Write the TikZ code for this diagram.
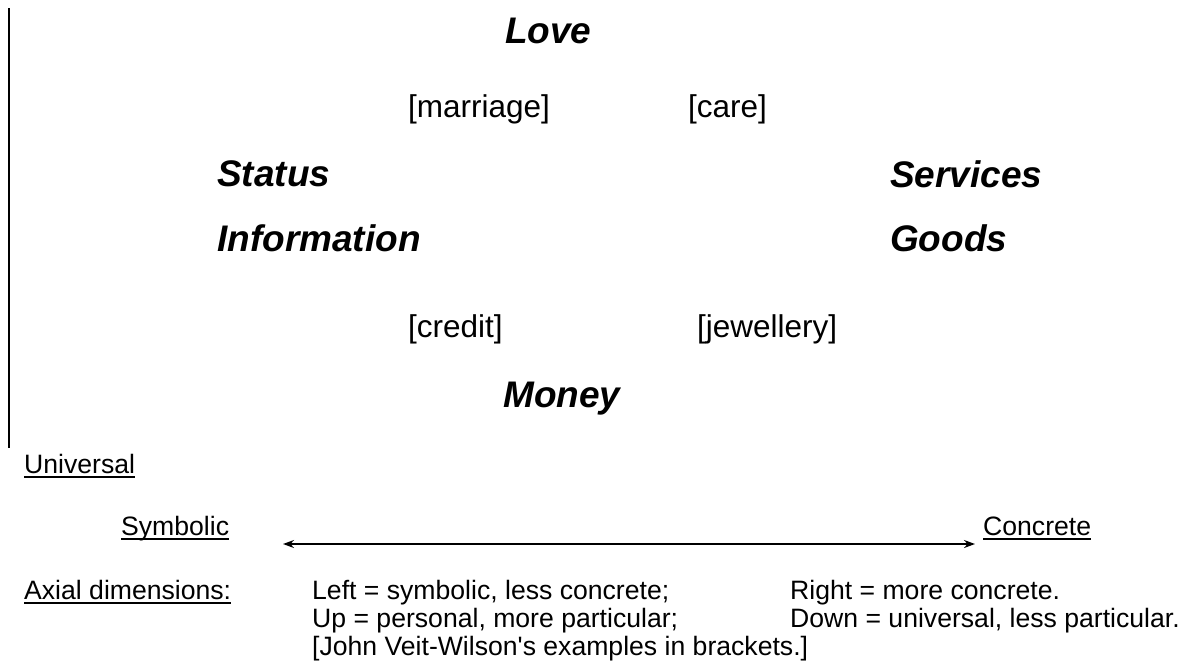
\documentclass[tikz,border=0pt]{standalone}
\usepackage{fontspec}
\setmainfont{Liberation Sans}
\usetikzlibrary{arrows.meta}
\tikzset{
  big/.style={anchor=base west, inner sep=0pt, font=\fontsize{37}{40}\selectfont\bfseries\itshape},
  ex/.style={anchor=base west, inner sep=0pt, font=\fontsize{31.5}{36}\selectfont},
  small/.style={anchor=base west, inner sep=0pt, font=\fontsize{26.6}{28}\selectfont},
  uline/.style={line width=1.6pt},
  axis/.style={line width=1.8pt, {Stealth[length=11pt,width=8pt]}-{Stealth[length=11pt,width=8pt]}}
}
\newcommand{\ulunder}[1]{\draw[uline] ([yshift=-4pt]#1.base west) -- ([yshift=-4pt]#1.base east);}
\begin{document}
\begin{tikzpicture}[x=1pt,y=-1pt]
\useasboundingbox (0,0) rectangle (1186,664);
\coordinate (vtop) at (9,8);
\coordinate (vbot) at (9,448);
\draw[line width=1.8pt] (vtop) -- (vbot);
\node[big] (love) at (505,43) {Love};
\node[ex] (marriage) at (408,117) {[marriage]};
\node[ex] (care) at (688,117) {[care]};
\node[big] (status) at (217,186) {Status};
\node[big] (services) at (890,187) {Services};
\node[big] (info) at (217,251) {Information};
\node[big] (goods) at (890,251) {Goods};
\node[ex] (credit) at (408,337) {[credit]};
\node[ex] (jewel) at (697,337) {[jewellery]};
\node[big] (money) at (503,407) {Money};
\node[small] (univ) at (24,473) {Universal};
\ulunder{univ}
\node[small] (symb) at (121,535) {Symbolic};
\ulunder{symb}
\node[small] (conc) at (983,535) {Concrete};
\ulunder{conc}
\coordinate (al) at (283,544);
\coordinate (ar) at (975,544);
\draw[axis] (al) -- (ar);
\node[small] (axial) at (24,599) {Axial dimensions:};
\ulunder{axial}
\node[small] (l1) at (312,599) {Left = symbolic, less concrete;};
\node[small] (r1) at (790,599) {Right = more concrete.};
\node[small] (l2) at (312,627) {Up = personal, more particular;};
\node[small] (r2) at (790,627) {Down = universal, less particular.};
\node[small] (l3) at (312,655) {[John Veit-Wilson\textquotesingle s examples in brackets.]};
\end{tikzpicture}
\end{document}
